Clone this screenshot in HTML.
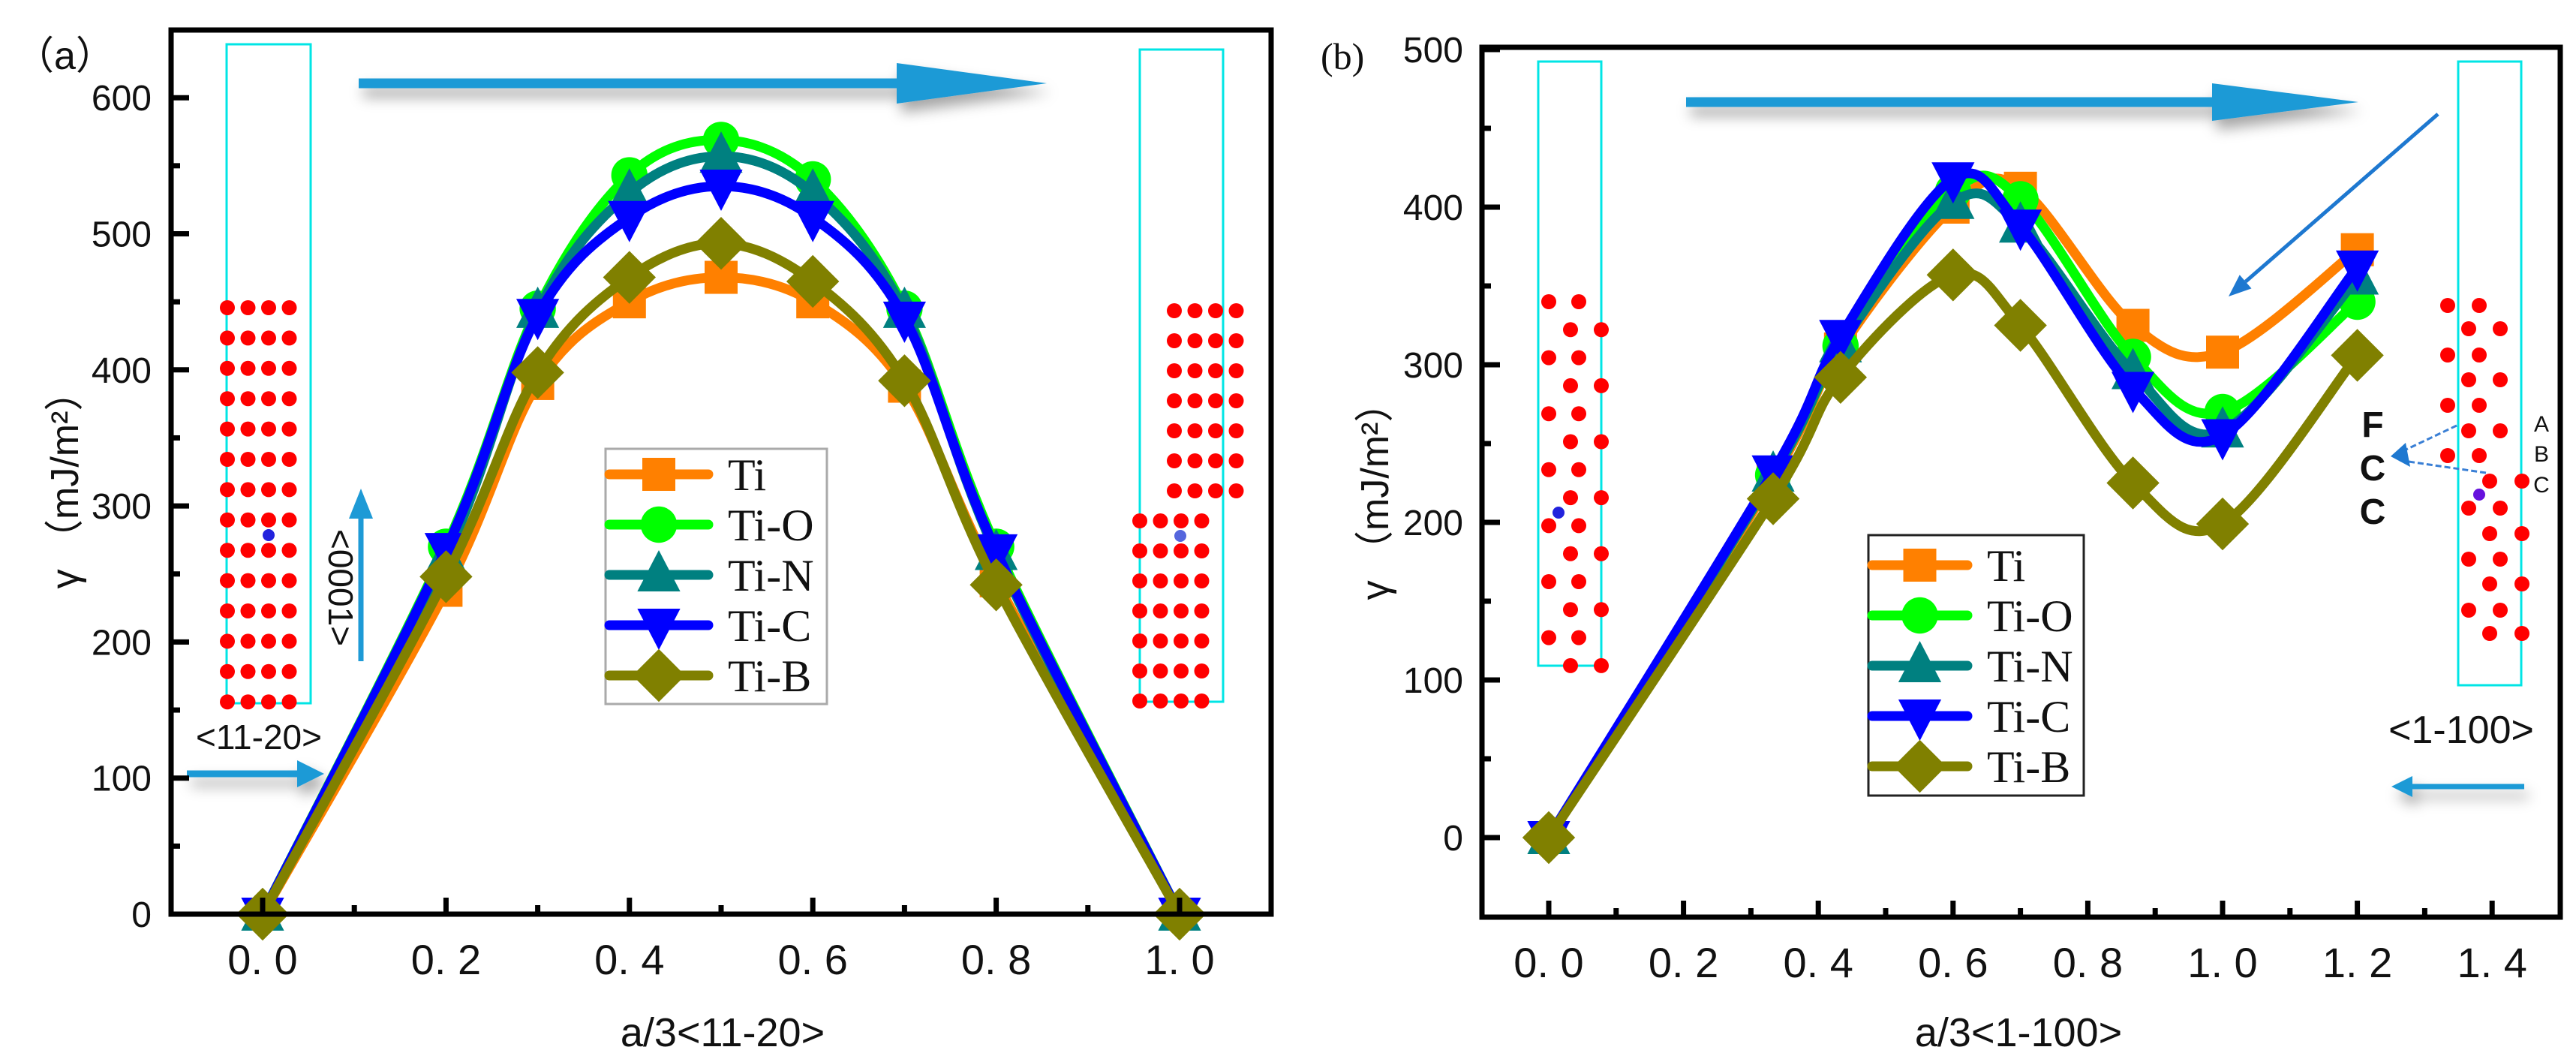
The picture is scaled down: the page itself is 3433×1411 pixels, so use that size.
<!DOCTYPE html>
<html><head><meta charset="utf-8"><style>
html,body{margin:0;padding:0;background:#fff}
svg{display:block}
text{font-family:"Liberation Sans","Noto Sans CJK SC",sans-serif}
.serif{font-family:"Liberation Serif","Noto Serif CJK SC",serif}
</style></head><body>
<svg id="fig" width="3433" height="1411" viewBox="0 0 3433 1411" xmlns="http://www.w3.org/2000/svg">
<defs>
<filter id="sh" x="-20%" y="-100%" width="140%" height="400%"><feDropShadow dx="6" dy="12" stdDeviation="9" flood-color="#000" flood-opacity="0.35"/></filter>
</defs>
<g id="deco"></g>
<g id="panelA"></g>
<g id="panelB"></g>
</svg>
<script>
// ---------- Panel (a) data ----------
const xA = [0, 0.2, 0.3, 0.4, 0.5, 0.6, 0.7, 0.8, 1.0];
const tiA  = [0, 238, 390, 450, 468, 450, 388, 245, 0];
const tiOA = [0, 270, 445, 543, 569, 540, 445, 270, 0];
const tiNA = [0, 262, 443, 530, 557, 530, 443, 265, 0];
const tiCA = [0, 268, 440, 512, 535, 512, 438, 267, 0];
const tiBA = [0, 248, 398, 468, 493, 465, 392, 242, 0];
const xTicksA = [0, 0.2, 0.4, 0.6, 0.8, 1.0];
const xTickLabelsA = ["0. 0","0. 2","0. 4","0. 6","0. 8","1. 0"];
const yTicksA = [0, 100, 200, 300, 400, 500, 600];
// ---------- Panel (b) data ----------
const xB = [0, 0.333, 0.433, 0.6, 0.7, 0.867, 1.0, 1.2];
const tiB  = [0, 228, 310, 400, 412, 325, 308, 373];
const tiOB = [0, 230, 312, 410, 405, 305, 270, 340];
const tiNB = [0, 230, 312, 403, 388, 295, 258, 355];
const tiCB = [0, 232, 318, 418, 388, 285, 255, 362];
const tiBB = [0, 215, 292, 357, 325, 225, 199, 306];
const xTicksB = [0, 0.2, 0.4, 0.6, 0.8, 1.0, 1.2, 1.4];
const xTickLabelsB = ["0. 0","0. 2","0. 4","0. 6","0. 8","1. 0","1. 2","1. 4"];
const yTicksB = [0, 100, 200, 300, 400, 500];
const seriesNames = ["Ti","Ti-O","Ti-N","Ti-C","Ti-B"];
const seriesColors = ["#ff8000","#00ff00","#008080","#0000ff","#808000"];
const seriesMarkers = ["square","circle","tri-up","tri-down","diamond"];

const NS = "http://www.w3.org/2000/svg";
function mk(tag, attrs, parent){ const e=document.createElementNS(NS,tag); for(const k in attrs) e.setAttribute(k,attrs[k]); parent.appendChild(e); return e; }

function spline(pts){
  let d = "M"+pts[0][0]+","+pts[0][1];
  for(let i=0;i<pts.length-1;i++){
    const p0=pts[Math.max(0,i-1)], p1=pts[i], p2=pts[i+1], p3=pts[Math.min(pts.length-1,i+2)];
    const c1=[p1[0]+(p2[0]-p0[0])/6, p1[1]+(p2[1]-p0[1])/6];
    const c2=[p2[0]-(p3[0]-p1[0])/6, p2[1]-(p3[1]-p1[1])/6];
    d+=" C"+c1[0]+","+c1[1]+" "+c2[0]+","+c2[1]+" "+p2[0]+","+p2[1];
  }
  return d;
}
function marker(g, type, cx, cy, color, s){
  let e;
  if(type==="square") e=mk("rect",{x:cx-s*0.5,y:cy-s*0.5,width:s,height:s,fill:color},g);
  else if(type==="circle") e=mk("circle",{cx:cx,cy:cy,r:s*0.55,fill:color},g);
  else if(type==="tri-up") e=mk("polygon",{points:`${cx},${cy-s*0.75} ${cx+s*0.65},${cy+s*0.5} ${cx-s*0.65},${cy+s*0.5}`,fill:color},g);
  else if(type==="tri-down") e=mk("polygon",{points:`${cx},${cy+s*0.75} ${cx+s*0.65},${cy-s*0.5} ${cx-s*0.65},${cy-s*0.5}`,fill:color},g);
  else e=mk("polygon",{points:`${cx},${cy-s*0.8} ${cx+s*0.8},${cy} ${cx},${cy+s*0.8} ${cx-s*0.8},${cy}`,fill:color},g);
  return e;
}

function panel(g, cfg){
  const X = v => cfg.x0px + (v - 0)*cfg.pxPerX;
  const Y = v => cfg.y0px - v*cfg.pxPerY;
  cfg.series.forEach((vals,si)=>{
    const sg = mk("g",{},g);
    
    
    const pts = cfg.xs.map((x,i)=>[X(x),Y(vals[i])]);
    const p = mk("path",{d:spline(pts),fill:"none",stroke:seriesColors[si],"stroke-width":13,"stroke-linejoin":"round"},sg);
    
    
    pts.forEach((pt,i)=>{
      const m = marker(sg, seriesMarkers[si], pt[0], pt[1], seriesColors[si], 44);
      
      
    });
  });
  const fr = mk("rect",{x:cfg.L,y:cfg.T,width:cfg.R-cfg.L,height:cfg.B-cfg.T,fill:"none",stroke:"#000","stroke-width":7},g);
   
  cfg.xTicks.forEach((t,i)=>{
    mk("line",{x1:X(t),x2:X(t),y1:cfg.B,y2:cfg.B-22,stroke:"#000","stroke-width":7},g);
    if(i<cfg.xTicks.length-1){ const m=(t+cfg.xTicks[i+1])/2; mk("line",{x1:X(m),x2:X(m),y1:cfg.B,y2:cfg.B-12,stroke:"#000","stroke-width":7},g); }
    const tx = mk("text",{x:X(t),y:cfg.B+80,"font-size":56,"text-anchor":"middle",fill:"#111"},g);
    tx.textContent = cfg.xTickLabels[i];
     
  });
  cfg.yTicks.forEach((t,i)=>{
    mk("line",{x1:cfg.L,x2:cfg.L+24,y1:Y(t),y2:Y(t),stroke:"#000","stroke-width":7},g);
    const m=t+50; if(Y(m)>cfg.T+5) mk("line",{x1:cfg.L,x2:cfg.L+12,y1:Y(m),y2:Y(m),stroke:"#000","stroke-width":7},g);
    const ty = mk("text",{x:cfg.ylabX,y:Y(t)+17,"font-size":48,"text-anchor":"end",fill:"#111"},g);
    ty.textContent = String(t);
     
  });
  const mneg = -50; if(Y(mneg)<cfg.B-5) mk("line",{x1:cfg.L,x2:cfg.L+12,y1:Y(mneg),y2:Y(mneg),stroke:"#000","stroke-width":7},g);
  const xt = mk("text",{x:cfg.xTitleX,y:1394,"font-size":54,"text-anchor":"middle",fill:"#111"},g);
  xt.textContent = cfg.xTitle;  
  const yt = mk("text",{x:0,y:0,"font-size":52,"text-anchor":"middle",fill:"#111",transform:`translate(${cfg.yTitleX},${cfg.yTitleY}) rotate(-90)`},g);
  yt.textContent = "γ （mJ/m²）";  
  const lg = mk("g",{},g);
   
  mk("rect",{x:cfg.lg.x,y:cfg.lg.y,width:cfg.lg.w,height:cfg.lg.h,fill:"#fff",stroke:cfg.lg.stroke,"stroke-width":3},lg);
  seriesNames.forEach((n,i)=>{
    const yy = cfg.lg.y0 + i*cfg.lg.dy;
    const eg = mk("g",{},lg);
     
    mk("line",{x1:cfg.lg.lx1,x2:cfg.lg.lx2,y1:yy,y2:yy,stroke:seriesColors[i],"stroke-width":13,"stroke-linecap":"round"},eg);
    marker(eg, seriesMarkers[i], (cfg.lg.lx1+cfg.lg.lx2)/2, yy, seriesColors[i], 44);
    const t = mk("text",{x:cfg.lg.tx,y:yy+21,"font-size":cfg.lg.fs,fill:"#111",class:"serif"},eg);
    t.textContent = n;
  });
}

panel(document.getElementById("panelA"),{
  L:228,R:1694,T:40,B:1218, x0px:350, pxPerX:1222, y0px:1218, pxPerY:1.813,
  xs:xA, series:[tiA,tiOA,tiNA,tiCA,tiBA], xTicks:xTicksA, xTickLabelsA:null, xTickLabels:xTickLabelsA, yTicks:yTicksA,
  ylabX:202, xTitle:"a/3<11-20>", xTitleX:963, yTitleX:104, yTitleY:640,
  lg:{x:807,y:598,w:295,h:340,stroke:"#aaa",y0:632,dy:67,lx1:812,lx2:944,tx:970,fs:60}
});
panel(document.getElementById("panelB"),{
  L:1975,R:3412,T:63,B:1222, x0px:2064, pxPerX:898, y0px:1116, pxPerY:2.1,
  xs:xB, series:[tiB,tiOB,tiNB,tiCB,tiBB], xTicks:xTicksB, xTickLabels:xTickLabelsB, yTicks:yTicksB,
  ylabX:1950, xTitle:"a/3<1-100>", xTitleX:2690, yTitleX:1850, yTitleY:655,
  lg:{x:2490,y:713,w:287,h:347,stroke:"#222",y0:753,dy:67,lx1:2495,lx2:2622,tx:2648,fs:60}
});

const D = document.getElementById("deco");
function dot(x,y,c,r){ const e=mk("circle",{cx:x,cy:y,r:r||10,fill:c||"#f00"},D);   }
function box(x,y,w,h){ const e=mk("rect",{x:x,y:y,width:w,height:h,fill:"none",stroke:"#00e5e5","stroke-width":3},D);   }
function arrow(x1,y1,x2,y2,w,hw,hl,col,shadow,name){
  const g=mk("g",shadow?{filter:"url(#sh)"}:{},D);
   
  const dx=x2-x1, dy=y2-y1, L=Math.hypot(dx,dy), ux=dx/L, uy=dy/L, nx=-uy, ny=ux;
  const bx=x2-ux*hl, by=y2-uy*hl;
  mk("line",{x1:x1,y1:y1,x2:bx,y2:by,stroke:col,"stroke-width":w},g);
  mk("polygon",{points:`${x2},${y2} ${bx+nx*hw},${by+ny*hw} ${bx-nx*hw},${by-ny*hw}`,fill:col},g);
}
function txt(x,y,s,fs,extra,name){ const e=mk("text",Object.assign({x:x,y:y,"font-size":fs,fill:"#111"},extra||{}),D); e.textContent=s;   return e; }

box(302,59,112,878);
for(let r=0;r<14;r++) for(let c=0;c<4;c++) dot(303+c*27.5,410+r*40.4);
dot(358,713,"#2222dd",8);
box(1519,66,111,869);
for(let r=0;r<7;r++) for(let c=0;c<4;c++) dot(1565+c*27.5,414+r*40);
for(let r=0;r<7;r++) for(let c=0;c<4;c++) dot(1519+c*27.5,694+r*40);
dot(1573,714,"#5566dd",8);
arrow(478,111,1395,111,13,27,200,"#1e9ad6",true,"top-arrow-a");
arrow(249,1031,432,1031,9,18,36,"#1e9ad6",true,"arrow-11-20");
arrow(481,881,481,651,7,16,40,"#1e9ad6",false,"arrow-0001");
txt(345,998,"<11-20>",46,{"text-anchor":"middle"},"label-11-20");
txt(0,0,"<0001>",46,{"text-anchor":"middle",transform:"translate(438,783) rotate(90)"},"label-0001");
txt(20,92,"（a）",52,{},"panel-a-label");

box(2050,82,84,805);
for(let r=0;r<14;r++){ const xs = r%2===0?[2064,2104]:[2093,2134]; xs.forEach(x=>dot(x,402+r*37.3)); }
dot(2077,683,"#2222dd",8);
box(3276,82,84,831);
const rr=[407,438,473,506,540,574,607,641,677,711,745,778,813,844];
rr.forEach((y,r)=>{ let xs; if(r<7) xs = r%2===0?[3262,3304]:[3290,3332]; else xs = r%2===1?[3318,3361]:[3290,3332]; xs.forEach(x=>dot(x,y)); });
dot(3304,659,"#6611dd",8);
arrow(2247,136,3143,136,13,25,195,"#1e9ad6",true,"top-arrow-b");
arrow(3249,152,2970,395,5,12,30,"#1e78d0",false,"diagonal-arrow");
arrow(3364,1048,3187,1048,7,14,28,"#1e9ad6",true,"arrow-1-100");
mk("line",{x1:3274,y1:567,x2:3196,y2:604,stroke:"#3a7fd5","stroke-width":3,"stroke-dasharray":"8 4"},D);
mk("line",{x1:3313,y1:630,x2:3196,y2:613,stroke:"#3a7fd5","stroke-width":3,"stroke-dasharray":"8 4"},D);
mk("polygon",{points:"3186,608 3206,590 3212,622",fill:"#1e78d0"},D);
txt(3162,582,"F",48,{"text-anchor":"middle","font-weight":"bold"},"stacking-f");
txt(3162,640,"C",48,{"text-anchor":"middle","font-weight":"bold"},"stacking-c1");
txt(3162,698,"C",48,{"text-anchor":"middle","font-weight":"bold"},"stacking-c2");
txt(3387,575,"A",30,{"text-anchor":"middle"},"layer-a");
txt(3387,615,"B",30,{"text-anchor":"middle"},"layer-b");
txt(3387,656,"C",30,{"text-anchor":"middle"},"layer-c");
txt(3280,990,"<1-100>",52,{"text-anchor":"middle"},"label-1-100");
txt(1760,92,"(b)",50,{class:"serif"},"panel-b-label");
</script>
</body></html>
